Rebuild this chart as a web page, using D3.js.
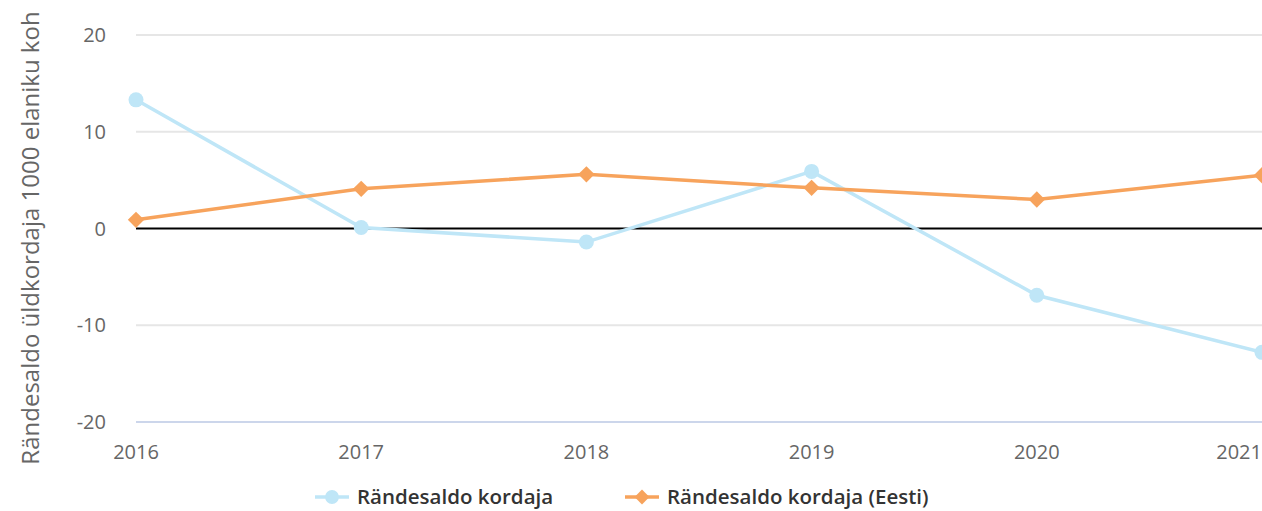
<!DOCTYPE html>
<html>
<head>
<meta charset="utf-8">
<script src="https://cdn.jsdelivr.net/npm/d3@7"></script>
<style>
  body { margin: 0; background: #fff; }
  svg { display: block; }
</style>
</head>
<body>
<script>
var years = ["2016", "2017", "2018", "2019", "2020", "2021"];
var kordaja = [13.3, 0.1, -1.4, 5.9, -6.9, -12.8];
var kordajaEesti = [0.9, 4.1, 5.6, 4.2, 3.0, 5.5];
var yTicks = [-20, -10, 0, 10, 20];
var seriesNames = ["Rändesaldo kordaja", "Rändesaldo kordaja (Eesti)"];

var width = 1262, height = 511;
var margin = {left: 136, right: 0, top: 35, bottom: 89};

var svg = d3.select("body").append("svg")
    .attr("width", width)
    .attr("height", height);

var x = d3.scalePoint()
    .domain(years)
    .range([margin.left, width - margin.right]);

var y = d3.scaleLinear()
    .domain([-20, 20])
    .range([height - margin.bottom, margin.top]);

// grid lines
svg.append("g")
    .selectAll("line")
    .data(yTicks.filter(function(d){ return d !== -20 && d !== 0; }))
    .enter().append("line")
    .attr("x1", margin.left).attr("x2", width)
    .attr("y1", function(d){ return y(d); })
    .attr("y2", function(d){ return y(d); })
    .attr("stroke", "#e6e6e6")
    .attr("stroke-width", 2);

// bottom axis line
svg.append("line")
    .attr("x1", margin.left).attr("x2", width)
    .attr("y1", y(-20)).attr("y2", y(-20))
    .attr("stroke", "#ccd6eb").attr("stroke-width", 2);

// zero line
svg.append("line")
    .attr("x1", margin.left).attr("x2", width)
    .attr("y1", y(0)).attr("y2", y(0))
    .attr("stroke", "#000").attr("stroke-width", 2);

// y labels
svg.append("g")
    .selectAll("text")
    .data(yTicks)
    .enter().append("text")
    .attr("x", 106)
    .attr("y", function(d){ return y(d) + 7; })
    .attr("text-anchor", "end")
    .attr("font-family", "Open Sans")
    .attr("font-size", 20)
    .attr("fill", "#666")
    .text(function(d){ return d; });

// x labels
svg.append("g")
    .selectAll("text")
    .data(years)
    .enter().append("text")
    .attr("x", function(d){ return x(d); })
    .attr("y", y(-20) + 37)
    .attr("text-anchor", function(d, i){ return i === years.length - 1 ? "end" : "middle"; })
    .attr("font-family", "Open Sans")
    .attr("font-size", 20)
    .attr("fill", "#666")
    .text(function(d){ return d; });

// y axis title
svg.append("text")
    .attr("transform", "translate(39,238) rotate(-90)")
    .attr("text-anchor", "middle")
    .attr("font-family", "Open Sans")
    .attr("font-size", 24)
    .attr("fill", "#666")
    .text("Rändesaldo üldkordaja 1000 elaniku koh");

var line = d3.line()
    .x(function(d, i){ return x(years[i]); })
    .y(function(d){ return y(d); });

var blue = "#bfe6f7", orange = "#f7a35c";

svg.append("path")
    .datum(kordaja)
    .attr("d", line)
    .attr("fill", "none")
    .attr("stroke", blue)
    .attr("stroke-width", 3.5);

svg.append("path")
    .datum(kordajaEesti)
    .attr("d", line)
    .attr("fill", "none")
    .attr("stroke", orange)
    .attr("stroke-width", 3.5);

svg.append("g")
    .selectAll("circle")
    .data(kordaja)
    .enter().append("circle")
    .attr("cx", function(d, i){ return x(years[i]); })
    .attr("cy", function(d){ return y(d); })
    .attr("r", 7.5)
    .attr("fill", blue);

var diamond = d3.symbol().type(d3.symbolDiamond2).size(170);

svg.append("g")
    .selectAll("path")
    .data(kordajaEesti)
    .enter().append("path")
    .attr("transform", function(d, i){ return "translate(" + x(years[i]) + "," + y(d) + ")"; })
    .attr("d", diamond)
    .attr("fill", orange);

// legend
var legend = [
    {name: seriesNames[0], color: blue, x: 315, shape: "circle"},
    {name: seriesNames[1], color: orange, x: 625, shape: "diamond"}
];

var lg = svg.append("g").selectAll("g")
    .data(legend)
    .enter().append("g")
    .attr("transform", function(d){ return "translate(" + d.x + ",497)"; });

lg.append("line")
    .attr("x1", 0).attr("x2", 34)
    .attr("stroke", function(d){ return d.color; })
    .attr("stroke-width", 3.5);

lg.append("path")
    .attr("transform", "translate(17,0)")
    .attr("d", function(d){
        return d3.symbol().type(d.shape === "circle" ? d3.symbolCircle : d3.symbolDiamond2).size(d.shape === "circle" ? 150 : 140)();
    })
    .attr("fill", function(d){ return d.color; });

lg.append("text")
    .attr("x", 42)
    .attr("y", 7)
    .attr("font-family", "Open Sans")
    .attr("font-weight", 600)
    .attr("font-size", 20.5)
    .attr("fill", "#333")
    .text(function(d){ return d.name; });
</script>
</body>
</html>
